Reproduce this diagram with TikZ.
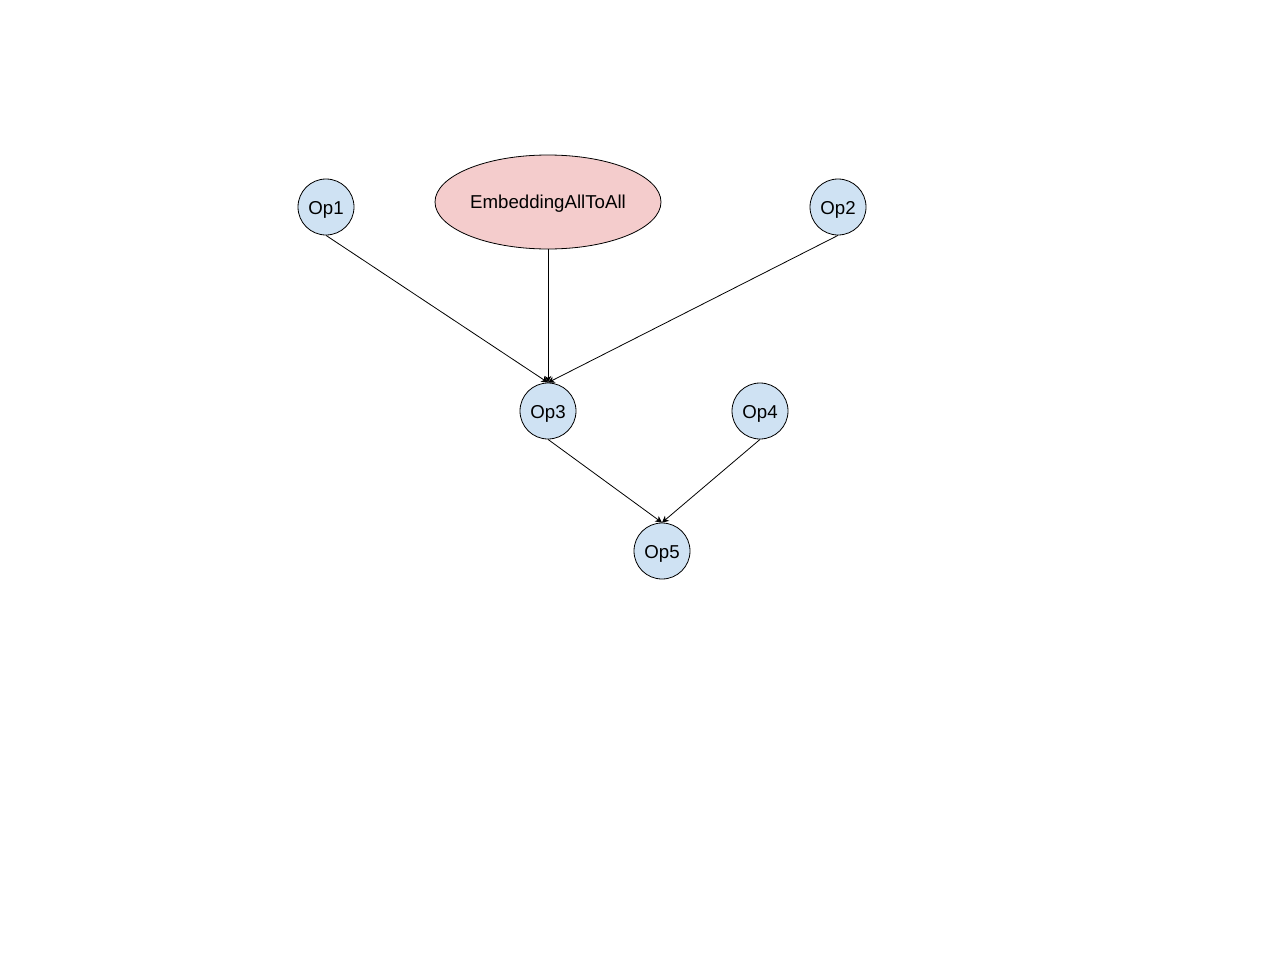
\documentclass[tikz,border=0pt]{standalone}
\usepackage{fontspec}
\setmainfont{Liberation Sans}
\usetikzlibrary{shapes.geometric,arrows.meta}
\definecolor{opblue}{HTML}{CFE2F3}
\definecolor{oppink}{HTML}{F4CCCC}
\begin{document}
\begin{tikzpicture}[x=0.75pt,y=-0.75pt,
  opnode/.style={circle,draw=black,fill=opblue,line width=0.6pt,minimum size=42pt,inner sep=0pt,font=\fontsize{14}{16}\selectfont,text height=12pt,text depth=1pt},
  embnode/.style={ellipse,draw=black,fill=oppink,line width=0.6pt,minimum width=169.5pt,minimum height=70.5pt,inner sep=0pt,font=\fontsize{14}{16}\selectfont,text height=11pt,text depth=1pt},
  edge/.style={-{Stealth[length=5pt,width=5pt,inset=1.5pt]},line width=0.6pt}]
\useasboundingbox[fill=white] (0,0) rectangle (1280,960);
\node[opnode] (op1) at (326,207) {Op1};
\node[embnode] (emb) at (548,202) {EmbeddingAllToAll};
\node[opnode] (op2) at (838,207) {Op2};
\node[opnode] (op3) at (548,411) {Op3};
\node[opnode] (op4) at (760,411) {Op4};
\node[opnode] (op5) at (662,551) {Op5};
\draw[edge] (op1.south) -- (op3.north);
\draw[edge] (emb.south) -- (op3.north);
\draw[edge] (op2.south) -- (op3.north);
\draw[edge] (op3.south) -- (op5.north);
\draw[edge] (op4.south) -- (op5.north);
\end{tikzpicture}
\end{document}
